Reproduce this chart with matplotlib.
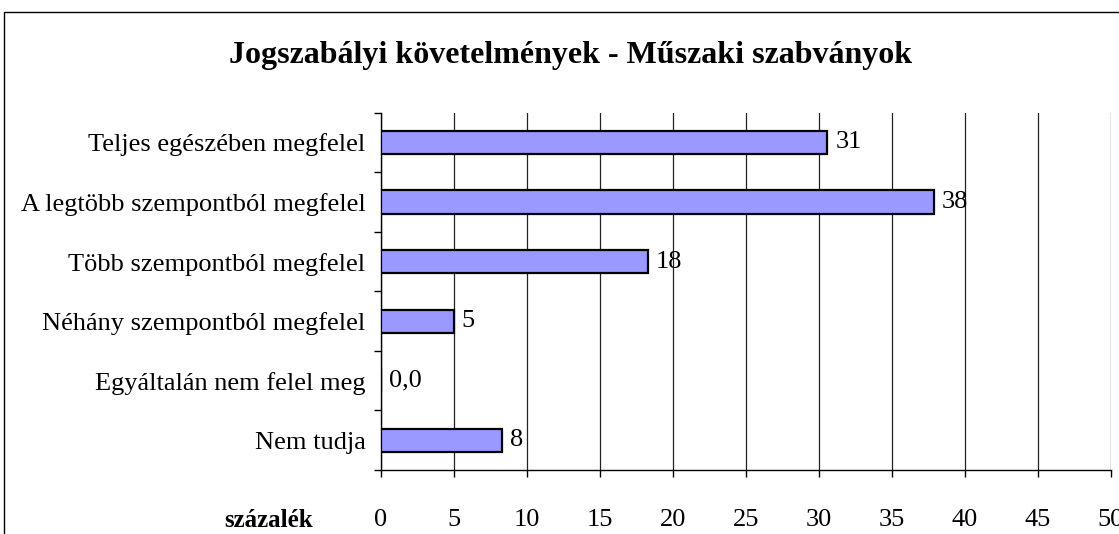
import matplotlib.pyplot as plt
from matplotlib.patches import Rectangle
import numpy as np

plt.rcParams['font.family'] = ['Liberation Serif', 'DejaVu Serif']

categories = ['Teljes egészében megfelel', 'A legtöbb szempontból megfelel',
              'Több szempontból megfelel', 'Néhány szempontból megfelel',
              'Egyáltalán nem felel meg', 'Nem tudja']
values = [30.6, 37.9, 18.3, 5.0, 0.0, 8.3]
value_labels = ['31', '38', '18', '5', '0,0', '8']
xticks = [0, 5, 10, 15, 20, 25, 30, 35, 40, 45, 50]

fig = plt.figure(figsize=(11.19, 5.34), dpi=100)
ax = fig.add_axes([0.3402, 0.1199, 0.6524, 0.6690])

# keret a diagram körül
fig.patches.append(Rectangle((4 / 1119, -0.05), 1.2, 1 - 12 / 534 + 0.05,
                             transform=fig.transFigure, fill=False,
                             edgecolor='black', linewidth=1))

y = np.arange(len(categories))
ax.barh(y, values, height=0.39, color='#9999FF', edgecolor='black',
        linewidth=1.6, zorder=3)
for yi, v, lab in zip(y, values, value_labels):
    ax.text(v + 0.55, yi, lab, va='center', ha='left', fontsize=19, zorder=4)

ax.set_xlim(0, 50)
ax.set_ylim(len(categories) - 0.5, -0.5)
ax.set_xticks(xticks)
ax.set_xticklabels([str(t) for t in xticks], fontsize=19)
ax.set_yticks(y)
ax.set_yticklabels(categories, fontsize=19)
ax.set_yticks(np.arange(-0.5, len(categories), 1), minor=True)
ax.tick_params(axis='y', which='major', length=0, pad=11)
ax.tick_params(axis='y', which='minor', length=5, direction='out', width=1)
ax.tick_params(axis='x', length=5, direction='out', width=1, pad=23)

ax.grid(axis='x', color='#222222', linewidth=0.9, zorder=0)
for s in ['top', 'right']:
    ax.spines[s].set_visible(False)
ax.spines['left'].set_linewidth(1)
ax.spines['bottom'].set_linewidth(1)

fig.text(0.51, 0.897, 'Jogszabályi követelmények - Műszaki szabványok',
         ha='center', va='center', fontsize=23, fontweight='bold')
fig.text(0.24, 0.026, 'százalék', ha='center', va='center',
         fontsize=18, fontweight='bold')

fig.savefig('out.png', dpi=100)
